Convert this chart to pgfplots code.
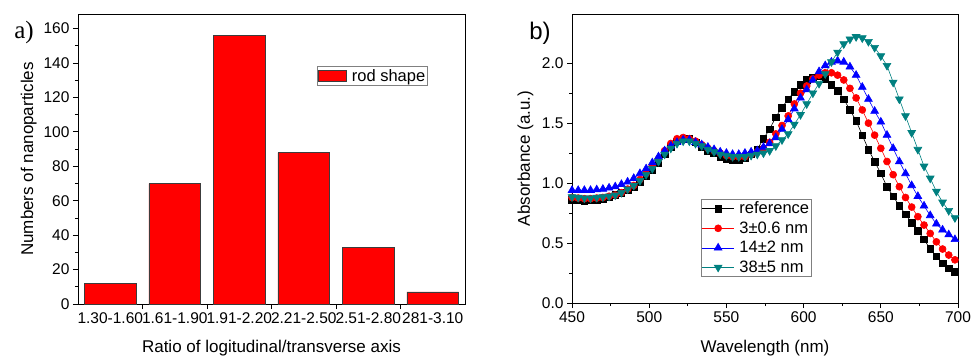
\documentclass[border=0pt]{standalone}
\usepackage{pgfplots}
\pgfplotsset{compat=1.18}
\usepackage{pgfplotstable}
\usepackage{fontspec}
\setmainfont{Liberation Sans}
\newfontfamily\seriffont{Liberation Serif}
\definecolor{tealc}{RGB}{0,128,128}
\definecolor{edgec}{RGB}{60,60,60}

\pgfplotstableread{
lam ref r3 r14 r38
450 0.86 0.88 0.94 0.885
454 0.855 0.875 0.94 0.88
458 0.85 0.87 0.94 0.875
462 0.855 0.87 0.94 0.875
466 0.86 0.875 0.945 0.88
470 0.87 0.88 0.95 0.885
474 0.88 0.89 0.96 0.89
478 0.90 0.90 0.97 0.90
482 0.92 0.92 0.99 0.92
486 0.94 0.95 1.01 0.95
490 0.97 0.98 1.04 0.98
494 1.01 1.03 1.08 1.02
498 1.06 1.08 1.12 1.07
502 1.11 1.14 1.17 1.12
506 1.17 1.20 1.22 1.18
510 1.24 1.27 1.27 1.24
514 1.30 1.33 1.31 1.29
518 1.35 1.37 1.34 1.33
522 1.37 1.38 1.36 1.35
526 1.37 1.37 1.36 1.35
530 1.34 1.35 1.34 1.33
534 1.30 1.32 1.32 1.31
538 1.27 1.29 1.30 1.28
542 1.25 1.27 1.28 1.26
546 1.22 1.25 1.26 1.24
550 1.20 1.23 1.25 1.23
554 1.19 1.22 1.24 1.22
558 1.19 1.22 1.24 1.22
562 1.21 1.22 1.25 1.22
566 1.24 1.24 1.26 1.23
570 1.28 1.26 1.27 1.24
574 1.37 1.29 1.30 1.25
578 1.45 1.34 1.33 1.27
582 1.55 1.41 1.38 1.31
586 1.63 1.48 1.45 1.36
590 1.70 1.56 1.53 1.41
594 1.76 1.66 1.62 1.49
598 1.82 1.75 1.71 1.57
602 1.86 1.81 1.78 1.66
606 1.88 1.87 1.86 1.75
610 1.89 1.90 1.93 1.83
614 1.87 1.92 1.98 1.91
618 1.82 1.92 2.01 2.01
622 1.77 1.90 2.02 2.09
626 1.70 1.86 2.01 2.16
630 1.61 1.79 1.97 2.20
634 1.52 1.71 1.90 2.22
638 1.40 1.61 1.80 2.21
642 1.28 1.50 1.70 2.18
646 1.18 1.40 1.60 2.13
650 1.08 1.29 1.51 2.06
654 0.97 1.18 1.40 1.98
658 0.89 1.07 1.29 1.84
662 0.81 0.97 1.18 1.70
666 0.74 0.88 1.08 1.56
670 0.67 0.80 0.98 1.42
674 0.60 0.72 0.89 1.28
678 0.53 0.65 0.81 1.14
682 0.45 0.58 0.73 1.04
686 0.39 0.51 0.66 0.93
690 0.33 0.45 0.61 0.84
694 0.29 0.40 0.57 0.77
698 0.26 0.36 0.53 0.71
}\spectra

\pgfplotsset{
  common/.style={
    scale only axis,
    axis line style={line width=0.9pt, black},
    tick style={line width=0.8pt, black},
    tick align=outside,
    tick pos=left,
    major tick length=5pt,
    minor tick length=3pt,
    /pgf/number format/assume math mode=true,
    tick label style={font=\fontsize{15.5}{17}\selectfont},
    label style={font=\fontsize{17}{19}\selectfont},
    legend style={font=\fontsize{16.5}{18}\selectfont},
  }
}

\begin{document}
\begin{tikzpicture}
\useasboundingbox (0,0) rectangle (973pt,357pt);

\begin{axis}[common,
  at={(78pt,53pt)}, anchor=south west,
  width=387pt, height=290pt,
  xmin=0.5, xmax=6.5, ymin=0, ymax=168.5,
  ytick={0,20,40,60,80,100,120,140,160},
  minor y tick num=1,
  xtick={1.5,2.5,3.5,4.5,5.5},
  xticklabels={},
  extra x ticks={1,2,3,4,5,6},
  extra x tick labels={1.30-1.60,1.61-1.90,1.91-2.20,2.21-2.50,2.51-2.80,281-3.10},
  extra x tick style={major tick length=0pt, tick label style={yshift=-5pt}},
  xlabel={Ratio of logitudinal/transverse axis},
  ylabel={Numbers of nanoparticles},
  xlabel style={at={(axis description cs:0.5,-0.168)}, anchor=base},
  ylabel style={at={(axis description cs:-0.116,0.5)}, anchor=base},
  legend style={at={(0.618,0.82)}, anchor=north west, draw=gray, line width=0.8pt, inner sep=0.5pt,
    nodes={inner sep=2pt}},
]
\addplot[ybar, bar width=0.8, fill=red, draw=edgec, line width=0.8pt,
  legend image code/.code={\draw[fill=red, draw=edgec, line width=0.8pt] (0pt,-5.5pt) rectangle (28pt,5.5pt);}]
  coordinates {(1,12) (2,70) (3,156) (4,88) (5,33) (6,7)};
\addlegendentry{\hspace{3pt}rod shape}
\end{axis}

\begin{axis}[common,
  at={(572pt,54pt)}, anchor=south west,
  width=386pt, height=289pt,
  xmin=450, xmax=700, ymin=0, ymax=2.41,
  xtick={450,500,550,600,650,700},
  ytick={0,0.5,1,1.5,2},
  minor tick num=1,
  yticklabel style={/pgf/number format/.cd, fixed, fixed zerofill, precision=1},
  xlabel={Wavelength (nm)},
  ylabel={Absorbance (a.u.)},
  xlabel style={at={(axis description cs:0.5,-0.172)}, anchor=base},
  ylabel style={at={(axis description cs:-0.109,0.5)}, anchor=base},
  legend cell align=left,
  legend style={at={(0.334,0.36)}, anchor=north west, draw=gray, line width=0.8pt, inner sep=0.5pt,
    row sep=2.5pt, nodes={inner sep=2pt}},
  legend image code/.code={\draw[mark repeat=2,mark phase=2,#1] plot coordinates {(0pt,0pt) (16pt,0pt) (32pt,0pt)};},
]
\addplot[black, line width=0.6pt, mark=square*, mark size=3.3pt] table[x=lam,y=ref]{\spectra};
\addlegendentry{\hspace{3pt}reference}
\addplot[red, line width=0.6pt, mark=*, mark size=3.5pt] table[x=lam,y=r3]{\spectra};
\addlegendentry{\hspace{3pt}3±0.6 nm}
\addplot[blue, line width=0.6pt, mark=triangle*, mark size=4.5pt] table[x=lam,y=r14]{\spectra};
\addlegendentry{\hspace{3pt}14±2 nm}
\addplot[tealc, line width=0.6pt, mark=triangle*, mark size=4.5pt, mark options={rotate=180}] table[x=lam,y=r38]{\spectra};
\addlegendentry{\hspace{3pt}38±5 nm}
\end{axis}

\node[font=\seriffont\fontsize{25}{25}\selectfont] at (24pt,324.5pt) {a)};
\node[font=\fontsize{24}{24}\selectfont] at (540pt,323.5pt) {b)};
\end{tikzpicture}
\end{document}
